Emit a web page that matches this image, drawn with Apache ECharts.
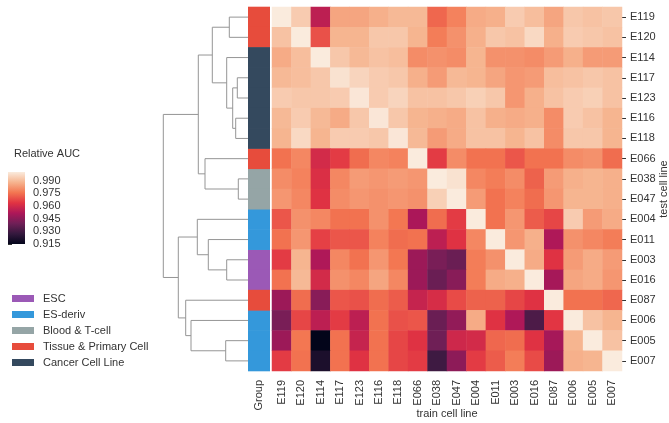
<!DOCTYPE html>
<html><head><meta charset="utf-8">
<script src="https://cdn.jsdelivr.net/npm/echarts@6/dist/echarts.min.js"></script>
<style>html,body{margin:0;padding:0;background:#fff}#c{width:669px;height:423px}</style>
</head><body><div id="c"></div>
<script>
const cellLines = ['E119','E120','E114','E117','E123','E116','E118','E066','E038','E047','E004','E011','E003','E016','E087','E006','E005','E007'];
const groupNames = ['ESC','ES-deriv','Blood & T-cell','Tissue & Primary Cell','Cancer Cell Line'];
const groupColors = ['#9b59b6','#3498db','#95a5a6','#e74c3c','#34495e'];
const rowGroups = ['Tissue & Primary Cell','Tissue & Primary Cell','Cancer Cell Line','Cancer Cell Line','Cancer Cell Line','Cancer Cell Line','Cancer Cell Line','Tissue & Primary Cell','Blood & T-cell','Blood & T-cell','ES-deriv','ES-deriv','ESC','ESC','Tissue & Primary Cell','ES-deriv','ES-deriv','ES-deriv'];
// rows = test cell line, columns = train cell line (same order)
const auc = [
  [1.000,0.993,0.955,0.985,0.985,0.987,0.989,0.989,0.973,0.978,0.986,0.987,0.993,0.990,0.985,0.992,0.991,0.992],
  [0.991,1.000,0.969,0.988,0.988,0.992,0.992,0.988,0.977,0.981,0.987,0.992,0.991,0.996,0.987,0.993,0.992,0.991],
  [0.986,0.990,1.000,0.992,0.989,0.991,0.990,0.980,0.981,0.980,0.988,0.981,0.981,0.980,0.983,0.987,0.983,0.983],
  [0.989,0.990,0.992,0.998,0.995,0.993,0.992,0.987,0.983,0.989,0.988,0.985,0.982,0.983,0.990,0.991,0.992,0.991],
  [0.993,0.992,0.992,0.993,0.999,0.993,0.995,0.991,0.991,0.992,0.994,0.992,0.982,0.987,0.991,0.993,0.994,0.991],
  [0.989,0.993,0.989,0.986,0.992,0.999,0.992,0.988,0.987,0.986,0.991,0.987,0.986,0.987,0.980,0.993,0.991,0.988],
  [0.988,0.996,0.988,0.993,0.993,0.992,0.999,0.989,0.983,0.986,0.991,0.991,0.988,0.991,0.980,0.992,0.992,0.988],
  [0.975,0.979,0.960,0.965,0.974,0.979,0.978,1.000,0.965,0.980,0.975,0.975,0.970,0.975,0.975,0.980,0.981,0.974],
  [0.980,0.978,0.962,0.979,0.983,0.982,0.983,0.982,1.000,0.998,0.979,0.977,0.980,0.972,0.983,0.987,0.988,0.987],
  [0.982,0.979,0.963,0.980,0.982,0.981,0.982,0.981,0.994,1.000,0.983,0.975,0.978,0.974,0.982,0.988,0.988,0.987],
  [0.970,0.981,0.979,0.975,0.975,0.981,0.976,0.951,0.974,0.965,1.000,0.975,0.982,0.971,0.967,0.993,0.983,0.986],
  [0.975,0.982,0.966,0.970,0.970,0.978,0.974,0.975,0.955,0.963,0.979,1.000,0.982,0.987,0.952,0.981,0.979,0.977],
  [0.965,0.988,0.952,0.979,0.975,0.982,0.976,0.948,0.941,0.938,0.977,0.981,1.000,0.986,0.963,0.983,0.986,0.983],
  [0.975,0.989,0.960,0.981,0.979,0.985,0.979,0.948,0.938,0.944,0.977,0.986,0.987,1.000,0.950,0.985,0.986,0.982],
  [0.948,0.974,0.944,0.970,0.969,0.974,0.971,0.957,0.961,0.968,0.972,0.972,0.967,0.963,1.000,0.975,0.975,0.973],
  [0.941,0.967,0.955,0.965,0.955,0.975,0.969,0.970,0.938,0.946,0.986,0.963,0.952,0.932,0.964,1.000,0.991,0.988],
  [0.948,0.976,0.915,0.975,0.957,0.975,0.967,0.963,0.939,0.959,0.960,0.973,0.974,0.963,0.950,0.988,1.000,0.991],
  [0.965,0.975,0.921,0.975,0.963,0.975,0.967,0.965,0.929,0.945,0.965,0.971,0.977,0.968,0.948,0.987,0.988,1.000]
];
const colorbarTicks = [0.915,0.930,0.945,0.960,0.975,0.990];
const aucMin = 0.915, aucMax = 1.0;
// linkage: [childA, childB, distance]; new clusters numbered from 18 in order
const linkage = [
  [3,4,10.7],[5,6,12.3],[18,19,15.3],[2,20,21.3],[0,1,18.7],[22,21,35.7],
  [8,9,9.7],[7,24,43.0],[23,25,49.7],
  [12,13,21.3],[11,27,39.7],[10,28,50.7],
  [16,17,22.3],[15,30,57.0],[14,31,62.3],[29,32,69.7],[26,33,84.7]
];
const rocket = ['#03051A','#35193E','#701F57','#AD1759','#E13342','#F37651','#F6B48F','#FAEBDD'];

const heatData = [];
auc.forEach((row, r) => row.forEach((v, c) => heatData.push([c, r, v])));

const pos = cellLines.map((_, i) => i + 0.5);
const hts = cellLines.map(() => 0);
const dendroData = linkage.map(([a, b, h]) => {
  const item = [h, pos[a], hts[a], pos[b], hts[b]];
  pos.push((pos[a] + pos[b]) / 2); hts.push(h);
  return item;
});

const txt = '#333';
const chart = echarts.init(document.getElementById('c'));
const series = [
  { type: 'heatmap', xAxisIndex: 0, yAxisIndex: 0, data: heatData, itemStyle: { borderWidth: 0 } },
  { type: 'custom', xAxisIndex: 2, yAxisIndex: 2, data: dendroData, silent: true,
    encode: { x: 0, y: 1 },
    renderItem: (params, api) => {
      const h = api.value(0), ya = api.value(1), ha = api.value(2), yb = api.value(3), hb = api.value(4);
      return { type: 'polyline', shape: { points: [api.coord([ha, ya]), api.coord([h, ya]), api.coord([h, yb]), api.coord([hb, yb])] },
        style: { stroke: '#959595', lineWidth: 1, fill: null } };
    } },
  { type: 'custom', xAxisIndex: 3, yAxisIndex: 3, data: [[0, aucMin, 1, aucMax]], silent: true,
    encode: { x: 0, y: 1 },
    renderItem: (params, api) => {
      const p0 = api.coord([api.value(0), api.value(1)]);
      const p1 = api.coord([api.value(2), api.value(3)]);
      const stops = rocket.map((c, i) => ({ offset: 1 - i / (rocket.length - 1), color: c })).reverse();
      return { type: 'rect', shape: { x: p0[0], y: p1[1], width: p1[0] - p0[0], height: p0[1] - p1[1] },
        style: { fill: new echarts.graphic.LinearGradient(0, 0, 0, 1, stops) } };
    } }
];
groupNames.forEach((g, gi) => {
  series.push({ type: 'custom', name: g, xAxisIndex: 1, yAxisIndex: 1, itemStyle: { color: groupColors[gi] },
    encode: { x: 0, y: 1 },
    data: cellLines.map((c, i) => [0, i]).filter((d) => rowGroups[d[1]] === g),
    renderItem: (params, api) => {
      const p = api.coord([api.value(0), api.value(1)]);
      const s = api.size([1, 1]);
      return { type: 'rect', shape: { x: p[0] - s[0] / 2, y: p[1] - s[1] / 2 - 0.3, width: s[0], height: s[1] + 0.6 },
        style: { fill: api.visual('color') } };
    } });
});

chart.setOption({
  animation: false,
  textStyle: { fontFamily: 'Liberation Sans, Arial, sans-serif' },
  title: { text: 'Relative AUC', left: 9, top: 143, textStyle: { fontSize: 11, fontWeight: 'normal', color: txt } },
  legend: { data: groupNames, orient: 'vertical', left: 7, top: 287, icon: 'rect', itemWidth: 22, itemHeight: 7, itemGap: 3,
    textStyle: { fontSize: 11, color: txt, lineHeight: 13, padding: [0, 0, 0, 4] } },
  visualMap: { type: 'continuous', show: false, seriesIndex: 0, min: aucMin, max: aucMax, inRange: { color: rocket } },
  grid: [
    { left: 272, top: 7, width: 350, height: 364, outerBoundsMode: 'none', containLabel: false },
    { left: 248, top: 7, width: 22, height: 364, outerBoundsMode: 'none', containLabel: false },
    { left: 120, top: 7, width: 128, height: 364, outerBoundsMode: 'none', containLabel: false },
    { left: 8, top: 172, width: 17, height: 72, outerBoundsMode: 'none', containLabel: false }
  ],
  xAxis: [
    { type: 'category', gridIndex: 0, data: cellLines, axisLine: { show: false }, axisTick: { show: false },
      axisLabel: { rotate: 90, fontSize: 11, color: txt, margin: 9 },
      name: 'train cell line', nameLocation: 'middle', nameGap: 37, nameMoveOverlap: false,
      nameTextStyle: { fontSize: 11, color: txt } },
    { type: 'category', gridIndex: 1, data: ['Group'], axisLine: { show: false }, axisTick: { show: false },
      axisLabel: { rotate: 90, fontSize: 11, color: txt, margin: 9 } },
    { type: 'value', gridIndex: 2, min: 0, max: 128, inverse: true, show: false },
    { type: 'value', gridIndex: 3, min: 0, max: 1, show: false }
  ],
  yAxis: [
    { type: 'category', gridIndex: 0, data: cellLines, inverse: true, position: 'right', axisLine: { show: false },
      axisTick: { show: true, alignWithLabel: true, length: 4, lineStyle: { color: txt } },
      axisLabel: { fontSize: 11, color: txt, margin: 8 },
      name: 'test cell line', nameLocation: 'middle', nameRotate: 90, nameGap: 36, nameMoveOverlap: false,
      nameTextStyle: { fontSize: 11, color: txt } },
    { type: 'category', gridIndex: 1, data: cellLines, inverse: true, show: false },
    { type: 'value', gridIndex: 2, min: 0, max: 18, inverse: true, show: false },
    { type: 'value', gridIndex: 3, min: aucMin, max: aucMax, position: 'right', splitLine: { show: false },
      axisLine: { show: false },
      axisTick: { show: true, length: 4, customValues: colorbarTicks, lineStyle: { color: txt } },
      axisLabel: { fontSize: 11, color: txt, margin: 8, customValues: colorbarTicks, formatter: (v) => v.toFixed(3) } }
  ],
  series: series
});
</script></body></html>
